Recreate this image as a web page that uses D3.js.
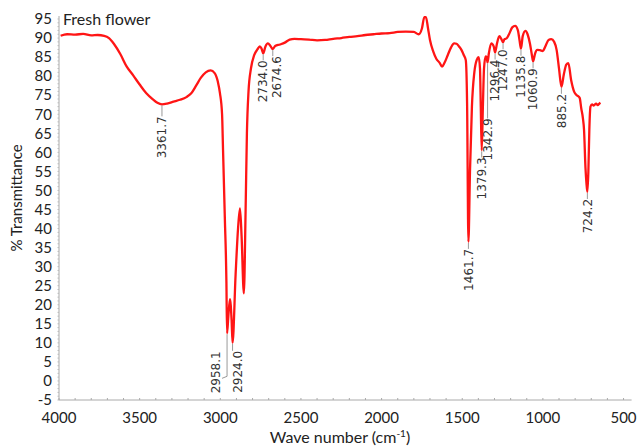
<!DOCTYPE html>
<html lang="en">
<head>
    <meta charset="UTF-8">
    <title>FTIR - Fresh flower</title>
    <script src="https://d3js.org/d3.v7.min.js"></script>
    <style>
        body { margin: 0; background: #fff; }
        text { font-family: Lato, "Open Sans", sans-serif; fill: #222; }
        .peak { font-family: "DejaVu Sans", sans-serif; font-size: 12px; fill: #333; }
    </style>
</head>
<body>
    <svg width="638" height="447"></svg>
    <script>
        // spectrum (wave number, % transmittance)
        const waveNumber = [
            3990, 3950, 3900, 3850, 3800, 3760, 3720, 3690, 3660, 3620, 3580, 3540, 3500, 3460, 3420, 3390,
            3361.7, 3330, 3290, 3250, 3210, 3180, 3150, 3120, 3090, 3060, 3035, 3015, 3002, 2989, 2983, 2972,
            2962, 2958.1, 2950, 2940, 2930, 2924.0, 2905, 2890, 2878, 2868, 2854, 2843, 2835, 2825, 2810, 2790,
            2770, 2755, 2745, 2734.0, 2720, 2705, 2690, 2674.6, 2660, 2630, 2600, 2570, 2540, 2500, 2450, 2400,
            2350, 2300, 2250, 2200, 2150, 2100, 2050, 2000, 1950, 1900, 1850, 1800, 1770, 1750, 1735, 1725,
            1712, 1700, 1680, 1660, 1640, 1625, 1610, 1590, 1570, 1550, 1535, 1520, 1505, 1490, 1478, 1470,
            1461.7, 1452, 1440, 1425, 1410, 1398, 1390, 1385, 1379.3, 1372, 1365, 1355, 1349, 1342.9, 1335, 1320,
            1305, 1296.4, 1285, 1270, 1258, 1247.0, 1238, 1225, 1210, 1190, 1172, 1155, 1145, 1135.8, 1125, 1108,
            1095, 1080, 1068, 1060.9, 1048, 1035, 1018, 1000, 985, 965, 948, 930, 915, 900, 885.2, 870,
            855, 842, 825, 805, 790, 772, 762, 752, 745, 736, 730, 724.2, 718, 712, 705, 695,
            685, 670, 660, 650, 643
        ];
        const transmittance = [
            90.6, 91.0, 90.9, 91.1, 90.7, 90.8, 90.6, 90.0, 88.5, 85.8, 82.5, 80.2, 77.8, 75.6, 74.0, 73.0,
            72.6, 72.8, 73.3, 73.8, 74.5, 75.5, 77.5, 79.6, 81.0, 81.5, 80.8, 78.5, 75.5, 70.0, 60.6, 43.0,
            25.7, 12.5, 17.0, 21.5, 16.0, 10.0, 28.0, 40.0, 45.3, 38.0, 23.0, 45.0, 65.0, 76.0, 82.0, 85.5,
            87.0, 87.8, 87.3, 86.0, 87.8, 88.6, 88.0, 87.1, 87.9, 88.3, 88.8, 89.6, 89.8, 89.7, 89.6, 89.4,
            89.5, 89.8, 90.0, 90.3, 90.5, 90.8, 91.0, 91.2, 91.3, 91.6, 91.7, 91.6, 91.0, 92.5, 95.5, 95.5,
            92.5, 89.5, 86.5, 84.5, 83.5, 82.5, 83.5, 85.5, 87.5, 88.6, 88.5, 87.8, 86.9, 85.5, 84.2, 73.0,
            36.5, 55.0, 72.0, 81.0, 84.3, 85.0, 82.0, 72.0, 60.5, 72.0, 82.0, 85.2, 85.0, 83.6, 86.0, 88.6,
            87.8, 86.2, 88.5, 90.5, 89.8, 88.9, 89.7, 89.9, 91.0, 92.8, 93.2, 92.0, 89.5, 87.2, 90.5, 91.9,
            91.0, 88.5, 85.5, 83.9, 86.0, 86.9, 86.8, 86.6, 87.8, 89.5, 89.7, 89.0, 86.9, 82.0, 77.2, 80.5,
            83.0, 83.4, 79.0, 75.8, 75.0, 74.3, 71.5, 69.0, 66.0, 56.0, 52.0, 49.6, 55.0, 66.0, 72.0, 72.6,
            72.3, 72.8, 72.4, 72.8, 73.0
        ];

        // labelled absorption bands
        const peakWn = [3361.7, 2958.1, 2924.0, 2734.0, 2674.6, 1461.7, 1379.3, 1342.9,
                        1296.4, 1247.0, 1135.8, 1060.9, 885.2, 724.2];

        const xTicks = [4000, 3500, 3000, 2500, 2000, 1500, 1000, 500];
        const yTicks = d3.range(-5, 96, 5);

        const svg = d3.select("svg");

        const x = d3.scaleLinear().domain([4000, 450]).range([59, 631.6]);
        const y = d3.scaleLinear().domain([-5, 95]).range([400, 19]);

        // y axis: gray line, minor ticks every unit
        const yAxis = svg.append("g");
        yAxis.append("line")
            .attr("x1", x(4000)).attr("x2", x(4000))
            .attr("y1", y(-5)).attr("y2", y(95) - 3)
            .attr("stroke", "#aaa");
        yAxis.selectAll(".ymin")
            .data(d3.range(-5, 96, 1))
            .enter().append("line")
            .attr("x1", x(4000) - 1.5).attr("x2", x(4000))
            .attr("y1", d => y(d)).attr("y2", d => y(d))
            .attr("stroke", "#bbb");
        yAxis.selectAll(".ytick")
            .data(yTicks)
            .enter().append("text")
            .attr("x", 52)
            .attr("y", d => y(d))
            .attr("dy", "0.35em")
            .attr("text-anchor", "end")
            .attr("font-size", 15)
            .text(d => d);

        // x axis
        const xAxis = svg.append("g");
        xAxis.append("line")
            .attr("x1", x(4000)).attr("x2", x(450))
            .attr("y1", y(-5)).attr("y2", y(-5))
            .attr("stroke", "#aaa");
        xAxis.selectAll(".xmin")
            .data(d3.range(4000, 450, -100))
            .enter().append("line")
            .attr("x1", d => x(d)).attr("x2", d => x(d))
            .attr("y1", y(-5)).attr("y2", y(-5) - 2)
            .attr("stroke", "#aaa");
        xAxis.selectAll(".xtick")
            .data(xTicks)
            .enter().append("text")
            .attr("x", d => x(d))
            .attr("y", 423)
            .attr("text-anchor", "middle")
            .attr("font-size", 15)
            .text(d => d);

        // titles
        svg.append("text")
            .attr("transform", "translate(22,198) rotate(-90)")
            .attr("text-anchor", "middle")
            .attr("font-size", 15)
            .text("% Transmittance");

        const xt = svg.append("text")
            .attr("x", 340).attr("y", 443)
            .attr("text-anchor", "middle")
            .attr("font-size", 16);
        xt.append("tspan").text("Wave number (cm");
        xt.append("tspan").attr("dy", -6).attr("font-size", 10).text("-1");
        xt.append("tspan").attr("dy", 6).text(")");

        svg.append("text")
            .attr("x", 63).attr("y", 25)
            .attr("font-size", 16)
            .text("Fresh flower");

        // spectrum
        const pts = waveNumber.map((w, i) => [w, transmittance[i]]);
        const line = d3.line()
            .x(d => x(d[0]))
            .y(d => y(d[1]))
            .curve(d3.curveMonotoneX);

        svg.append("path")
            .datum(pts)
            .attr("fill", "none")
            .attr("stroke", "#ff1515")
            .attr("stroke-width", 2.3)
            .attr("stroke-linejoin", "round")
            .attr("d", line);

        // peak labels: gap below the band and sideways nudge
        const gap = {3361.7: 11, 2958.1: 17, 2924.0: 7, 1342.9: 55};
        const nudge = {2958.1: -11, 2924.0: 5, 2674.6: 4};

        peakWn.forEach(w => {
            const t = transmittance[waveNumber.indexOf(w)];
            const px = x(w), py = y(t) + 1;
            const g = gap[w] || 6, dx = nudge[w] || 0;
            let d = `M${px},${py}V${py + g}`;
            if (w === 2958.1) d = `M${px},${py}V${py + 42}L${px - 5},${py + 44}`;
            svg.append("path")
                .attr("d", d)
                .attr("fill", "none")
                .attr("stroke", "#999")
                .attr("stroke-width", 1);
            svg.append("text")
                .attr("class", "peak")
                .attr("transform", `translate(${px + dx},${py + g}) rotate(-90)`)
                .attr("text-anchor", "end")
                .attr("dy", "0.35em")
                .text(w.toFixed(1));
        });
    </script>
</body>
</html>
